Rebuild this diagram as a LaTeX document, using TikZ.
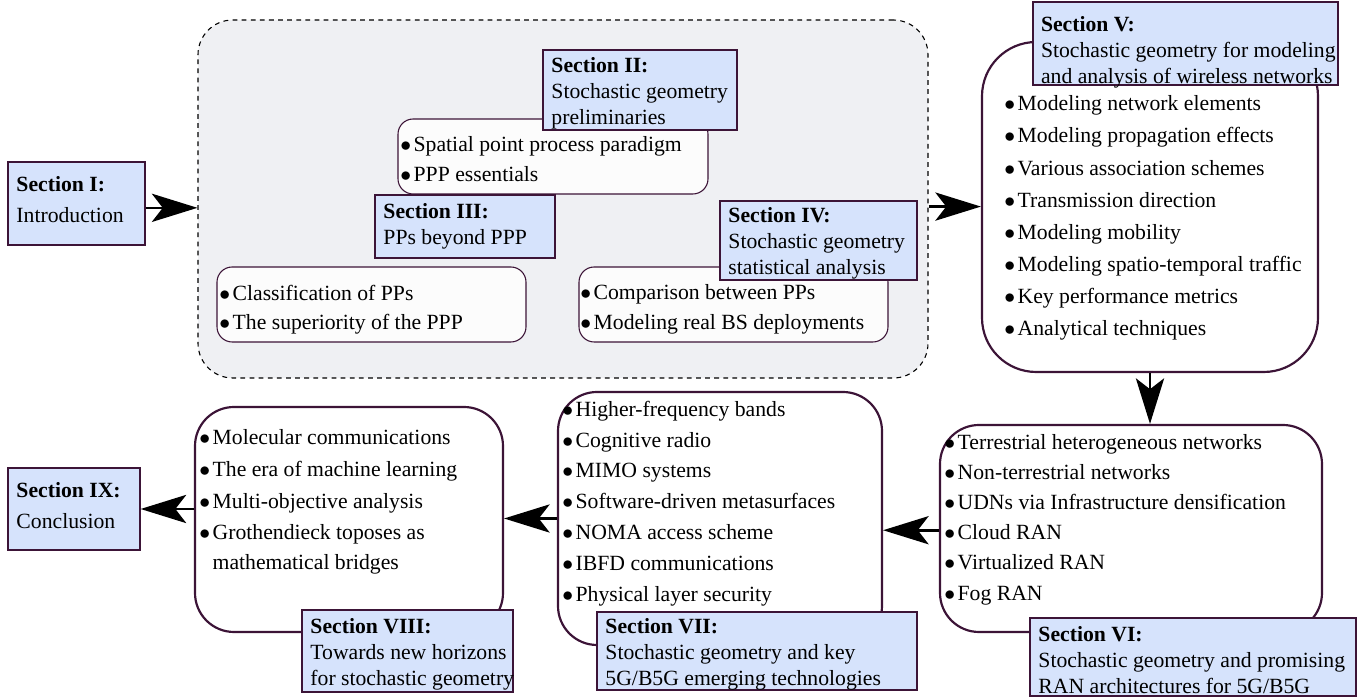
\documentclass[tikz,border=0pt]{standalone}
\usepackage{fontspec}
\setmainfont{Liberation Serif}
\usetikzlibrary{arrows.meta,fit}
\definecolor{bord}{RGB}{60,20,55}
\definecolor{labfill}{RGB}{214,227,252}
\definecolor{grpfill}{RGB}{239,240,243}
\definecolor{innfill}{RGB}{252,252,252}
\newcommand{\itm}{$\bullet$\hspace{1.1pt}}
\newcommand{\itmph}{\phantom{$\bullet$}\hspace{1.1pt}}
\begin{document}
\begin{tikzpicture}[x=0.461pt,y=-0.461pt,
  grp/.style={draw=black, dash pattern=on 2.2pt off 2pt, line width=0.5pt, fill=grpfill, rounded corners=16pt, inner sep=0pt},
  bigbox/.style={draw=bord, line width=1pt, fill=white, rounded corners=18pt, inner sep=0pt},
  innbox/.style={draw=bord, line width=0.5pt, fill=innfill, rounded corners=7pt, inner sep=0pt},
  labbox/.style={draw=bord, line width=0.6pt, fill=labfill, inner sep=0pt},
  labtxt/.style={align=left, inner sep=0pt, anchor=west, font=\fontsize{10}{12}\selectfont},
  items/.style={align=left, inner sep=0pt, anchor=west},
  arr/.style={line width=1.2pt, -{Stealth[length=21pt,width=13pt,inset=5pt]}}]
\useasboundingbox (0,0) rectangle (1372,698);

% group of sections II-IV
\node[grp, fit={(198,20)(928,378)}] (G) {};
\node[innbox, fit={(398,119)(708,194)}] (B2) {};
\node[items, font=\fontsize{10}{13.8}\selectfont] (T2) at (400,159) {\itm Spatial point process paradigm\\\itm PPP essentials};
\node[labbox, fit={(543,50)(737,130)}] (L2) {};
\node[labtxt] (S2) at ([xshift=4pt,yshift=-1.5pt]L2.west) {\textbf{Section II:}\\Stochastic geometry\\preliminaries};

\node[innbox, fit={(217,267)(526,342)}] (B3) {};
\node[items, font=\fontsize{10}{13.6}\selectfont] (T3) at (219,309.5) {\itm Classification of PPs\\\itm The superiority of the PPP};
\node[labbox, fit={(375,195)(555,258)}] (L3) {};
\node[labtxt] (S3) at ([xshift=4pt,yshift=0pt]L3.west) {\textbf{Section III:}\\PPs beyond PPP};

\node[innbox, fit={(579,267)(888,342)}] (B4) {};
\node[items, font=\fontsize{10}{13.6}\selectfont] (T4) at (580,309.5) {\itm Comparison between PPs\\\itm Modeling real BS deployments};
\node[labbox, fit={(720,201)(917,280)}] (L4) {};
\node[labtxt] (S4) at ([xshift=4pt,yshift=-1.5pt]L4.west) {\textbf{Section IV:}\\Stochastic geometry\\statistical analysis};

% Section I
\node[labbox, fit={(8,162)(145,245)}] (L1) {};
\node[labtxt] (S1) at ([xshift=4pt,yshift=1.8pt]L1.west) {\textbf{Section I:}\\[2pt]Introduction};

% Section V
\node[bigbox, rounded corners=25pt, fit={(982,42)(1318,372)}] (B5) {};
\node[items, font=\fontsize{10}{14.8}\selectfont] (T5) at (1004,218) {\itm Modeling network elements\\\itm Modeling propagation effects\\\itm Various association schemes\\\itm Transmission direction\\\itm Modeling mobility\\\itm Modeling spatio-temporal traffic\\\itm Key performance metrics\\\itm Analytical techniques};
\node[labbox, fit={(1033,2)(1338,85)}] (L5) {};
\node[labtxt] (S5) at ([xshift=3.8pt,yshift=-4pt]L5.west) {\textbf{Section V:}\\Stochastic geometry for modeling\\and analysis of wireless networks};

% Section VI
\node[bigbox, fit={(940,425)(1322,632)}] (B6) {};
\node[items, font=\fontsize{10}{13.9}\selectfont] (T6) at (944,519.5) {\itm Terrestrial heterogeneous networks\\\itm Non-terrestrial networks\\\itm UDNs via Infrastructure densification\\\itm Cloud RAN\\\itm Virtualized RAN\\\itm Fog RAN};
\node[labbox, fit={(1030,618)(1356,696)}] (L6) {};
\node[labtxt] (S6) at ([xshift=4pt,yshift=-1.5pt]L6.west) {\textbf{Section VI:}\\Stochastic geometry and promising\\RAN architectures for 5G/B5G};

% Section VII
\node[bigbox, fit={(558,392)(882,645)}] (B7) {};
\node[items, font=\fontsize{10}{14.2}\selectfont] (T7) at (562,503.5) {\itm Higher-frequency bands\\\itm Cognitive radio\\\itm MIMO systems\\\itm Software-driven metasurfaces\\\itm NOMA access scheme\\\itm IBFD communications\\\itm Physical layer security};
\node[labbox, fit={(597,612)(917,690)}] (L7) {};
\node[labtxt] (S7) at ([xshift=4pt,yshift=-1.5pt]L7.west) {\textbf{Section VII:}\\Stochastic geometry and key\\5G/B5G emerging technologies};

% Section VIII
\node[bigbox, fit={(195,407)(503,632)}] (B8) {};
\node[items, font=\fontsize{10}{14.6}\selectfont] (T8) at (199,502) {\itm Molecular communications\\\itm The era of machine learning\\\itm Multi-objective analysis\\\itm Grothendieck toposes as\\[-1pt]\itmph mathematical bridges};
\node[labbox, fit={(302,610)(513,692)}] (L8) {};
\node[labtxt] (S8) at ([xshift=4pt,yshift=-1.5pt]L8.west) {\textbf{Section VIII:}\\Towards new horizons\\for stochastic geometry};

% Section IX
\node[labbox, fit={(8,468)(140,550)}] (L9) {};
\node[labtxt] (S9) at ([xshift=4pt,yshift=1.5pt]L9.west) {\textbf{Section IX:}\\[2pt]Conclusion};

% connectors
\draw[arr] ([yshift=-2pt]L1.east) -- ([yshift=-2pt]L1.east -| G.west);
\draw[arr] ([yshift=-3.5pt]G.east) -- ([yshift=-3.5pt]G.east -| B5.west);
\draw[arr] (B5.south) -- (B5.south |- B6.north);
\draw[arr] ([yshift=-0.8pt]B6.west) -- ([yshift=-0.8pt]B6.west -| B7.east);
\draw[arr] (B7.west) -- (B7.west -| B8.east);
\draw[arr] (L9.east -| B8.west) -- (L9.east);
\end{tikzpicture}
\end{document}
